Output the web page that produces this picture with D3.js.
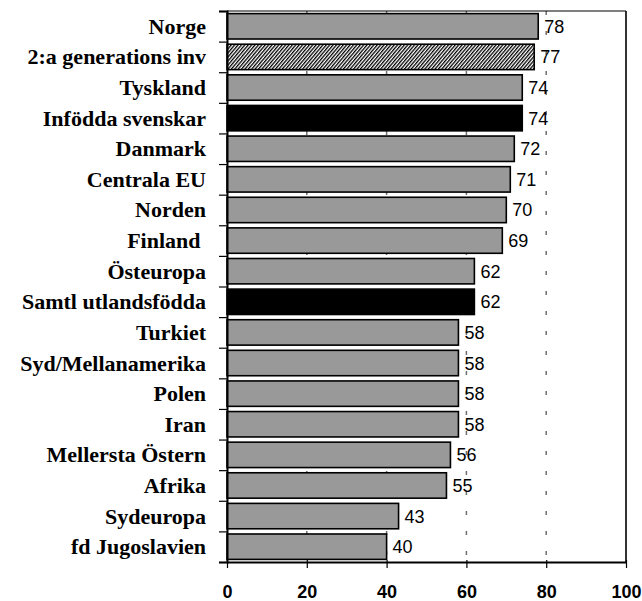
<!DOCTYPE html>
<html>
<head>
<meta charset="utf-8">
<script src="https://cdn.jsdelivr.net/npm/d3@7"></script>
<style>
  html, body { margin: 0; padding: 0; background: #fff; }
  svg { display: block; }
</style>
</head>
<body>
<svg id="chart" width="642" height="601"></svg>
<script>
// Share (%) per group, top to bottom
const categories = [
  "Norge", "2:a generations inv", "Tyskland", "Infödda svenskar", "Danmark",
  "Centrala EU", "Norden", "Finland ", "Östeuropa", "Samtl utlandsfödda",
  "Turkiet", "Syd/Mellanamerika", "Polen", "Iran", "Mellersta Östern",
  "Afrika", "Sydeuropa", "fd Jugoslavien"
];
const values = [78, 77, 74, 74, 72, 71, 70, 69, 62, 62, 58, 58, 58, 58, 56, 55, 43, 40];
// Bar style per group: "grey", "hatch" or "black"
const barKinds = [
  "grey", "hatch", "grey", "black", "grey", "grey", "grey", "grey", "grey", "black",
  "grey", "grey", "grey", "grey", "grey", "grey", "grey", "grey"
];
const xTicks = [0, 20, 40, 60, 80, 100];
const gridTicks = [20, 40, 60, 80];

const svg = d3.select("#chart");
const plotLeft = 227, plotRight = 626, plotTop = 11, plotBottom = 562;

const x = d3.scaleLinear().domain([0, 100]).range([plotLeft, plotRight]);
const y = d3.scaleBand().domain(categories).range([plotTop, plotBottom])
  .paddingInner(0.17).paddingOuter(0.085);

// diagonal hatch fill
const defs = svg.append("defs");
const pat = defs.append("pattern")
  .attr("id", "hatch")
  .attr("patternUnits", "userSpaceOnUse")
  .attr("width", 2.6).attr("height", 2.6)
  .attr("patternTransform", "rotate(40)");
pat.append("rect").attr("width", 2.6).attr("height", 2.6).attr("fill", "#fff");
pat.append("line").attr("x1", 0.65).attr("y1", 0).attr("x2", 0.65).attr("y2", 2.6)
  .attr("stroke", "#000").attr("stroke-width", 1.3);

const fills = { grey: "#999999", hatch: "url(#hatch)", black: "#000000" };

// dashed vertical gridlines
svg.append("g").selectAll("line").data(gridTicks).join("line")
  .attr("x1", d => x(d)).attr("x2", d => x(d))
  .attr("y1", plotTop).attr("y2", plotBottom)
  .attr("stroke", "#6e6e6e").attr("stroke-width", 1.5)
  .attr("stroke-dasharray", "4,16");

// bars
svg.append("g").selectAll("rect").data(categories).join("rect")
  .attr("x", x(0))
  .attr("y", d => y(d))
  .attr("width", (d, i) => x(values[i]) - x(0))
  .attr("height", y.bandwidth())
  .attr("fill", (d, i) => fills[barKinds[i]])
  .attr("stroke", "#000").attr("stroke-width", 1.6);

// value labels
svg.append("g").selectAll("text").data(categories).join("text")
  .attr("x", (d, i) => x(values[i]) + 6)
  .attr("y", d => y(d) + y.bandwidth() / 2)
  .attr("dy", "0.36em")
  .attr("font-family", "Liberation Sans, Arial, sans-serif")
  .attr("font-size", 18)
  .attr("fill", "#000")
  .text((d, i) => values[i]);

// plot frame: top and right
svg.append("line").attr("x1", plotLeft).attr("x2", plotRight).attr("y1", plotTop).attr("y2", plotTop)
  .attr("stroke", "#000").attr("stroke-width", 1.2);
svg.append("line").attr("x1", plotRight).attr("x2", plotRight).attr("y1", plotTop).attr("y2", plotBottom)
  .attr("stroke", "#000").attr("stroke-width", 1.6);

// left axis: ticks at category boundaries
const yEdge = d3.scaleLinear().domain([0, categories.length]).range([plotTop, plotBottom]);
const leftAxis = svg.append("g").attr("transform", `translate(${plotLeft},0)`)
  .call(d3.axisLeft(yEdge).tickValues(d3.range(categories.length + 1))
    .tickSize(8).tickFormat(""));
leftAxis.select(".domain").attr("stroke", "#000").attr("stroke-width", 2);
leftAxis.selectAll(".tick line").attr("stroke", "#000").attr("stroke-width", 1.2);

// category labels
svg.append("g").selectAll("text").data(categories).join("text")
  .attr("x", 206)
  .attr("y", d => y(d) + y.bandwidth() / 2)
  .attr("dy", "0.34em")
  .attr("text-anchor", "end")
  .attr("font-family", "Liberation Serif, Times New Roman, serif")
  .attr("font-weight", "bold")
  .attr("font-size", 22)
  .style("white-space", "pre")
  .attr("fill", "#000")
  .text(d => d);

// bottom axis
const bottomAxis = svg.append("g").attr("transform", `translate(0,${plotBottom})`)
  .call(d3.axisBottom(x).tickValues(xTicks).tickSize(6).tickPadding(17).tickSizeOuter(0));
bottomAxis.select(".domain").attr("stroke", "#000").attr("stroke-width", 2);
bottomAxis.selectAll(".tick line").attr("stroke", "#000").attr("stroke-width", 1.2)
  .attr("y1", -2);
bottomAxis.selectAll(".tick text")
  .attr("font-family", "Liberation Sans, Arial, sans-serif")
  .attr("font-weight", "bold")
  .attr("font-size", 18)
  .attr("fill", "#000");
</script>
</body>
</html>
